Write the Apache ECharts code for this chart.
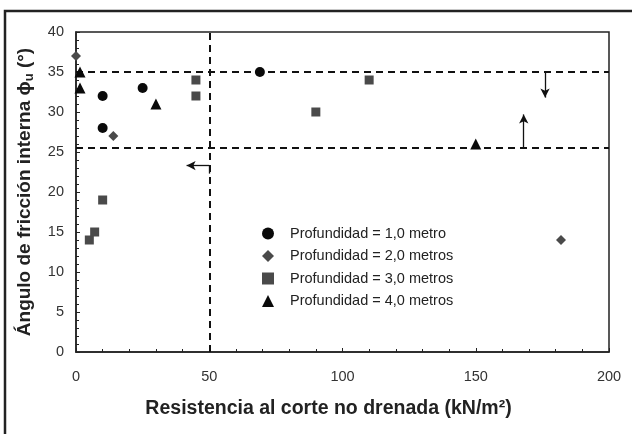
<!DOCTYPE html>
<html><head><meta charset="utf-8">
<script src="https://cdn.jsdelivr.net/npm/echarts@6/dist/echarts.min.js"></script>
<style>html,body{margin:0;padding:0;background:#fff}#c{width:632px;height:434px}</style>
</head><body><div id="c"></div>
<script>
var seriesNames = ['Profundidad = 1,0 metro','Profundidad = 2,0 metros','Profundidad = 3,0 metros','Profundidad = 4,0 metros'];
var depth1 = [[10,32],[10,28],[25,33],[69,35]];
var depth2 = [[0,37],[14,27],[182,14]];
var depth3 = [[45,34],[45,32],[10,19],[5,14],[7,15],[90,30],[110,34]];
var depth4 = [[1.5,35],[1.5,33],[30,31],[150,26]];
var hLines = [35, 25.5];
var vLine = 50;
var arrowDown = [[176,35],[176,31.8]];
var arrowUp = [[168,25.5],[168,29.7]];
var arrowLeft = [[50,23.3],[41.5,23.3]];
var arrowLeftStem = [[50,22.3],[50,23.3]];

var F = 'Liberation Sans, Arial, sans-serif';
var chart = echarts.init(document.getElementById('c'));
var markerStyle = [
  {symbol:'circle', size:10, color:'#0a0a0a'},
  {symbol:'diamond', size:10, color:'#4a4a4a'},
  {symbol:'rect', size:9, color:'#4a4a4a'},
  {symbol:'triangle', size:11, color:'#0a0a0a'}
];
var datas = [depth1, depth2, depth3, depth4];
var series = datas.map(function(d,i){
  return {name: seriesNames[i], type:'scatter', data:d, symbol:markerStyle[i].symbol,
    symbolSize:markerStyle[i].size, itemStyle:{color:markerStyle[i].color, opacity:1}, z:5};
});
var dashStyle = {color:'#111', width:2, type:[7,5]};
var solid = {color:'#111', width:1.3, type:'solid'};
series.push({
  type:'scatter', data:[], silent:true,
  markLine:{silent:true, symbol:'none', label:{show:false}, animation:false,
    data: hLines.map(function(v){return {yAxis:v, lineStyle:dashStyle};})
      .concat([{xAxis:vLine, lineStyle:dashStyle}])
      .concat([
        [{coord:arrowDown[0], symbol:'none', lineStyle:solid},{coord:arrowDown[1], symbol:'arrow', symbolSize:[7,9]}],
        [{coord:arrowUp[0], symbol:'none', lineStyle:solid},{coord:arrowUp[1], symbol:'arrow', symbolSize:[7,9]}],
        [{coord:arrowLeft[0], symbol:'none', lineStyle:solid},{coord:arrowLeft[1], symbol:'arrow', symbolSize:[7,9]}],
        [{coord:arrowLeftStem[0], symbol:'none', lineStyle:solid},{coord:arrowLeftStem[1], symbol:'none'}]
      ])
  }
});
chart.setOption({
  animation:false,
  backgroundColor:'#fff',
  textStyle:{fontFamily:F},
  graphic:[{type:'rect', shape:{x:5,y:11,width:700,height:500}, style:{fill:'none', stroke:'#222', lineWidth:2.5}, silent:true}],
  grid:{left:76, right:23, top:32, bottom:82, show:true, borderColor:'#222', borderWidth:1.5, backgroundColor:'transparent'},
  legend:{orient:'vertical', left:257, top:221, itemGap:7.5, itemWidth:12, itemHeight:12,
    textStyle:{fontSize:14.5, color:'#222', fontFamily:F, padding:[0,0,0,11]},
    data: seriesNames},
  xAxis:{type:'value', min:0, max:200, interval:50,
    axisLine:{lineStyle:{color:'#222', width:1.5}},
    axisTick:{inside:true, length:4, lineStyle:{color:'#222'}},
    minorTick:{show:true, splitNumber:5, length:3, lineStyle:{color:'#222'}},
    splitLine:{show:false},
    axisLabel:{fontSize:14.5, color:'#333', margin:17, fontFamily:F},
    name:'Resistencia al corte no drenada (kN/m²)', nameLocation:'middle', nameGap:47,
    nameTextStyle:{fontSize:19.5, fontWeight:'bold', color:'#222', fontFamily:F, padding:[0,28,0,0]}},
  yAxis:{type:'value', min:0, max:40, interval:5,
    axisLine:{lineStyle:{color:'#222', width:1.5}},
    axisTick:{inside:true, length:4, lineStyle:{color:'#222'}},
    minorTick:{show:true, splitNumber:5, length:3, lineStyle:{color:'#222'}},
    splitLine:{show:false},
    axisLabel:{fontSize:14.5, color:'#333', margin:12, fontFamily:F},
    name:'Ángulo de fricción interna {p|ϕ}{s|u} (°)', nameLocation:'middle', nameGap:40, nameRotate:90,
    nameTextStyle:{fontSize:19, fontWeight:'bold', color:'#222', fontFamily:F,
      rich:{p:{fontSize:19, color:'#222', fontFamily:F}, s:{fontSize:13, fontWeight:'bold', color:'#222', fontFamily:F, padding:[9,0,0,0]}}}},
  series:series
});
</script></body></html>
